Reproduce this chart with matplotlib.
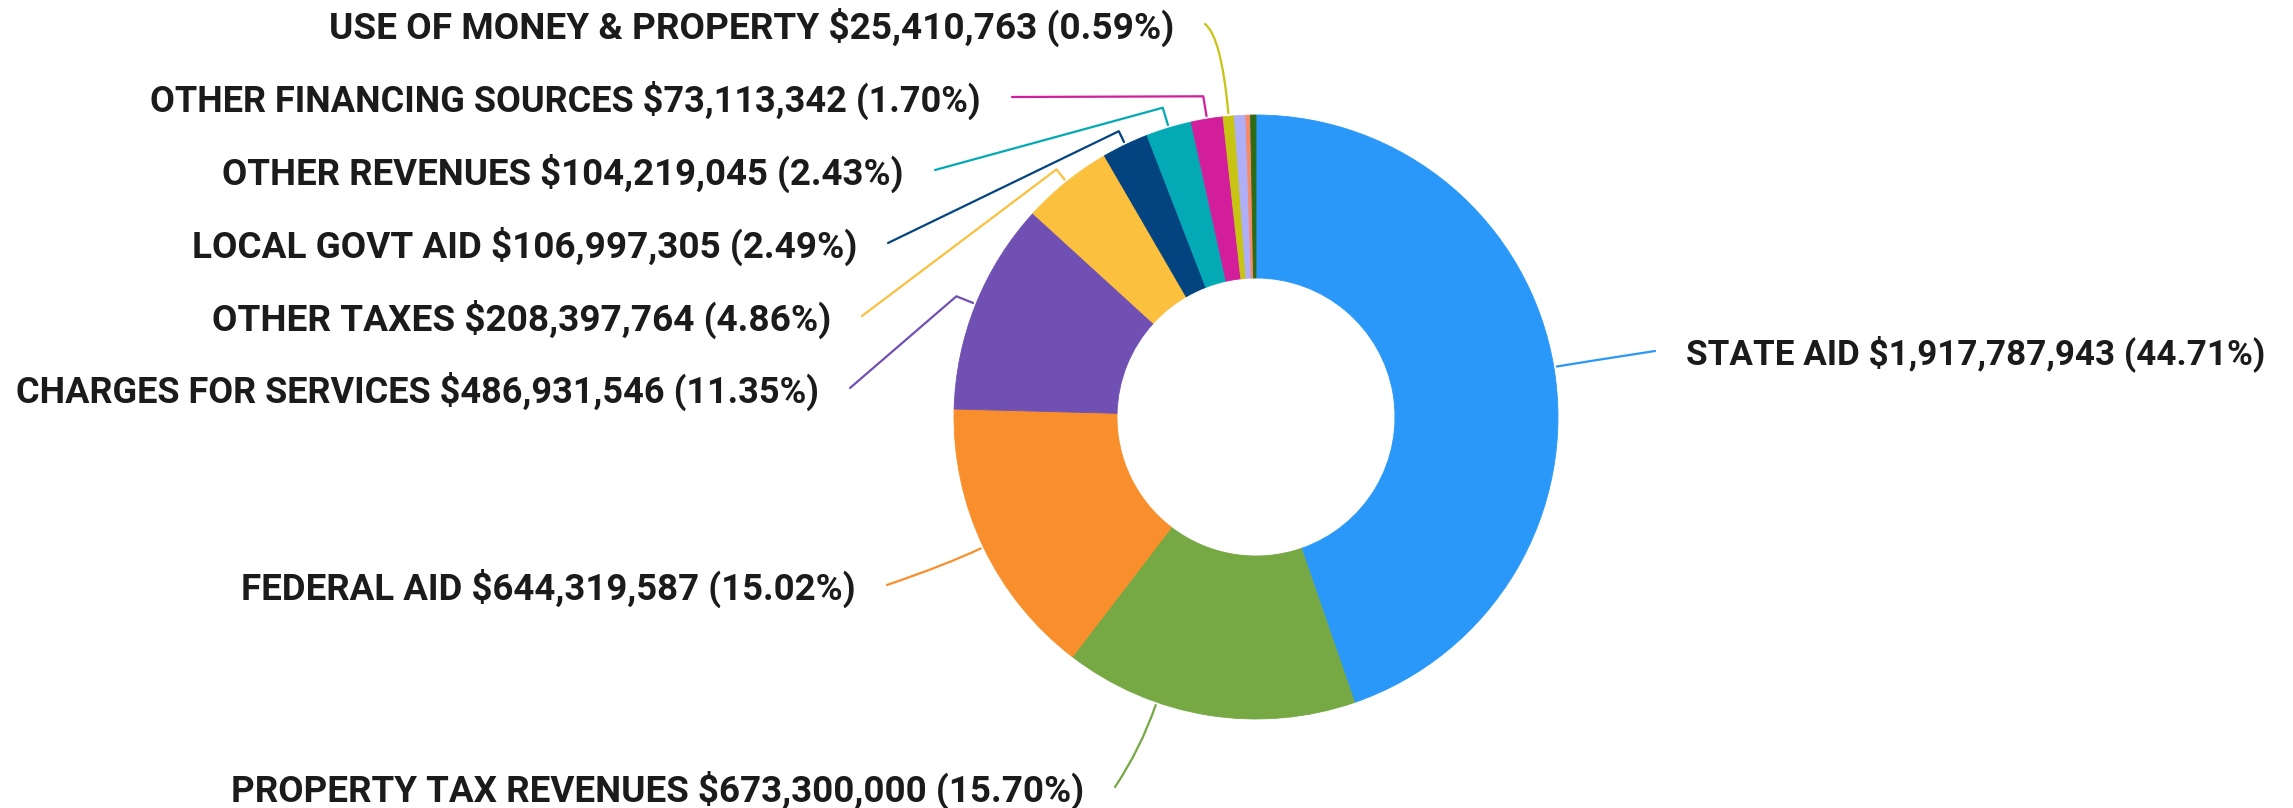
import matplotlib
matplotlib.use("Agg")
import matplotlib.pyplot as plt
import numpy as np
from matplotlib.path import Path
from matplotlib.patches import PathPatch

# ---------------- data ----------------
categories = ["STATE AID", "PROPERTY TAX REVENUES", "FEDERAL AID",
              "CHARGES FOR SERVICES", "OTHER TAXES", "LOCAL GOVT AID",
              "OTHER REVENUES", "OTHER FINANCING SOURCES",
              "USE OF MONEY & PROPERTY", "", "", ""]
amounts = [1917787943, 673300000, 644319587, 486931546, 208397764,
           106997305, 104219045, 73113342, 25410763, 26000000, 11000000, 12300000]
percents = ["44.71", "15.70", "15.02", "11.35", "4.86", "2.49", "2.43",
            "1.70", "0.59", "", "", ""]
colors = ["#2A98F8", "#76A844", "#F98F2C", "#7150B4", "#FBC03D", "#034480",
          "#03AAB5", "#D31E9C", "#C8C413", "#AFAFF8", "#F58A6B", "#2E6B16"]

# ---------------- layout (image pixel coords, y down) ----------------
W, H = 2293, 808
CX, CY, R, RING = 1256, 417, 302, 163
label_end = [(1655, 351), (1115, 787), (887, 585), (850, 388), (862, 316),
             (888, 243), (935, 170), (1012, 97), (1205, 24)]
leader_kind = ["curve", "curve", "curve", "knee", "knee", "knee", "knee", "knee", "curve"]
ctrl_ext = [30, 50, 40, 21, 16, 15, 21, 23, 80]
ang_off = [0, -10, 0, 0, 0, 0, 0, 0, 0]
label_width = [577, 852, 614, 804, 619, 664, 680, 829, 843]
text_gap = 31

fig = plt.figure(figsize=(W / 100, H / 100), dpi=100)
ax = fig.add_axes([0, 0, 1, 1])

def Y(y):
    return H - y

wedges, _ = ax.pie(amounts, colors=colors, startangle=90, counterclock=False,
                   radius=R, center=(CX, Y(CY)),
                   wedgeprops=dict(width=RING, linewidth=0.6))
for w, c in zip(wedges, colors):
    w.set_edgecolor(c)

ax.set_xlim(0, W)
ax.set_ylim(0, H)
ax.set_aspect("equal")
ax.axis("off")

font = dict(family=["Roboto", "DejaVu Sans"], weight="bold", color="#1b1b1b")
renderer = fig.canvas.get_renderer()

total = sum(amounts)
cum = 0.0
for i, amt in enumerate(amounts):
    frac0 = cum / total
    cum += amt
    frac1 = cum / total
    if i >= len(label_end):
        continue
    mid = 90 - 360 * (frac0 + frac1) / 2 + ang_off[i]
    th = np.deg2rad(mid)
    ax0 = CX + (R + 3) * np.cos(th)
    ay0 = Y(CY) + (R + 3) * np.sin(th)
    cx_ = CX + (R + ctrl_ext[i]) * np.cos(th)
    cy_ = Y(CY) + (R + ctrl_ext[i]) * np.sin(th)
    ex, ey = label_end[i]
    ey = Y(ey)
    if leader_kind[i] == "curve":
        path = Path([(ax0, ay0), (cx_, cy_), (ex, ey)],
                    [Path.MOVETO, Path.CURVE3, Path.CURVE3])
    else:
        path = Path([(ax0, ay0), (cx_, cy_), (ex, ey)],
                    [Path.MOVETO, Path.LINETO, Path.LINETO])
    ax.add_patch(PathPatch(path, facecolor="none", edgecolor=colors[i],
                           lw=1.6, capstyle="round", joinstyle="round"))
    label = f"{categories[i]} ${amt:,} ({percents[i]}%)"
    if ex > CX:
        t = ax.text(ex + text_gap, ey - 3, label, ha="left", va="center",
                    fontsize=20, **font)
    else:
        t = ax.text(ex - text_gap, ey - 3, label, ha="right", va="center",
                    fontsize=20, **font)
    wpx = t.get_window_extent(renderer).width
    t.set_fontsize(20 * label_width[i] / wpx)

fig.savefig("out.png", dpi=100)
